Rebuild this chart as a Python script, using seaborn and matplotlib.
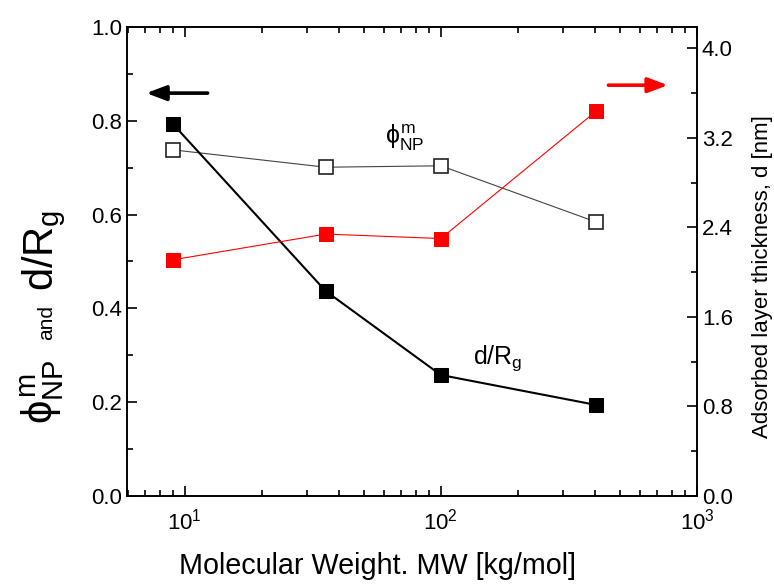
import pandas as pd
import matplotlib
matplotlib.use('Agg')
import matplotlib.pyplot as plt
from matplotlib.ticker import MultipleLocator, LogLocator, NullFormatter
import seaborn as sns

# values
mw = [9, 35.5, 100, 405]                 # kg/mol
d_over_rg = [0.793, 0.437, 0.258, 0.194]  # left axis
phi_np = [0.738, 0.701, 0.704, 0.584]     # left axis
thickness = [2.11, 2.34, 2.30, 3.44]      # right axis, nm

df = pd.DataFrame({'mw': mw, 'd_rg': d_over_rg, 'phi': phi_np, 'd': thickness})

sns.set_style('ticks')
plt.rcParams['font.family'] = ['Liberation Sans', 'DejaVu Sans']
plt.rcParams['mathtext.fontset'] = 'custom'
plt.rcParams['mathtext.rm'] = 'Liberation Sans'
plt.rcParams['mathtext.it'] = 'Liberation Sans'
plt.rcParams['mathtext.bf'] = 'Liberation Sans:bold'
for k in ('text.color', 'axes.labelcolor', 'xtick.color', 'ytick.color', 'axes.edgecolor'):
    plt.rcParams[k] = 'black'

fig = plt.figure(figsize=(7.74, 5.84), dpi=100)
ax = fig.add_axes([0.164, 0.1507, 0.7365, 0.8031])
ax2 = ax.twinx()

# left axis series
sns.lineplot(data=df, x='mw', y='phi', ax=ax, color='#444444', lw=0.8,
             marker='s', markersize=10, markerfacecolor='white',
             markeredgecolor='#222222', markeredgewidth=1.2, zorder=3)
sns.lineplot(data=df, x='mw', y='d_rg', ax=ax, color='black', lw=1.5,
             marker='s', markersize=10, markerfacecolor='black',
             markeredgecolor='black', zorder=4)
# right axis series
sns.lineplot(data=df, x='mw', y='d', ax=ax2, color='red', lw=0.8,
             marker='s', markersize=10, markerfacecolor='red',
             markeredgecolor='red', zorder=3)

ax.set_xscale('log')
ax.set_xlim(5.95, 1000)
ax.set_ylim(0, 1.0)
ax2.set_ylim(0, 4.19)

ax.yaxis.set_major_locator(MultipleLocator(0.2))
ax.yaxis.set_minor_locator(MultipleLocator(0.1))
ax2.yaxis.set_major_locator(MultipleLocator(0.8))
ax2.yaxis.set_minor_locator(MultipleLocator(0.4))
ax.xaxis.set_minor_locator(LogLocator(subs=range(2, 10)))
ax.xaxis.set_minor_formatter(NullFormatter())
ax.yaxis.set_major_formatter(plt.FuncFormatter(lambda v, p: f'{v:.1f}'))
ax2.yaxis.set_major_formatter(plt.FuncFormatter(lambda v, p: f'{v:.1f}'))

ax.tick_params(which='both', direction='in', top=True, right=False,
               labelsize=16, width=1.2)
ax.tick_params(which='major', length=7)
ax.tick_params(which='minor', length=4)
ax.tick_params(axis='x', pad=9)
ax2.tick_params(which='both', direction='in', labelsize=16, width=1.2)
ax2.tick_params(which='major', length=7)
ax2.tick_params(which='minor', length=4)

for a in (ax, ax2):
    for s in a.spines.values():
        s.set_visible(True)
        s.set_linewidth(1.2)

ax.set_xlabel('Molecular Weight. MW [kg/mol]', fontsize=20.7)
ax.xaxis.set_label_coords(0.439, -0.12)
ax.set_ylabel('')
ax2.set_ylabel('Adsorbed layer thickness, d [nm]', fontsize=16)
ax2.yaxis.set_label_coords(1.097, 0.467)

# composite left label with mixed sizes
fig.text(0.055, 1 - 392 / 584, r'$\phi^{m}_{NP}$', rotation=90, fontsize=30,
         ha='center', va='center')
fig.text(0.060, 1 - 322 / 584, 'and', rotation=90, fontsize=15,
         ha='center', va='center')
fig.text(0.057, 1 - 250 / 584, r'$d/R_g$', rotation=90, fontsize=30,
         ha='center', va='center')

# series labels
ax.text(72, 0.763, r'$\phi^{m}_{NP}$', fontsize=18, ha='center', va='center')
ax.text(167, 0.294, r'$d/R_g$', fontsize=18, ha='center', va='center')

# axis arrows
ax.annotate('', xy=(6.9, 0.859), xytext=(12.6, 0.859),
            arrowprops=dict(arrowstyle='-|>,head_length=1.2,head_width=0.45',
                            color='black', lw=2.6))
ax2.annotate('', xy=(790, 3.67), xytext=(440, 3.67),
             arrowprops=dict(arrowstyle='-|>,head_length=1.2,head_width=0.45',
                             color='red', lw=2.6))

fig.savefig('out.png', dpi=100)
